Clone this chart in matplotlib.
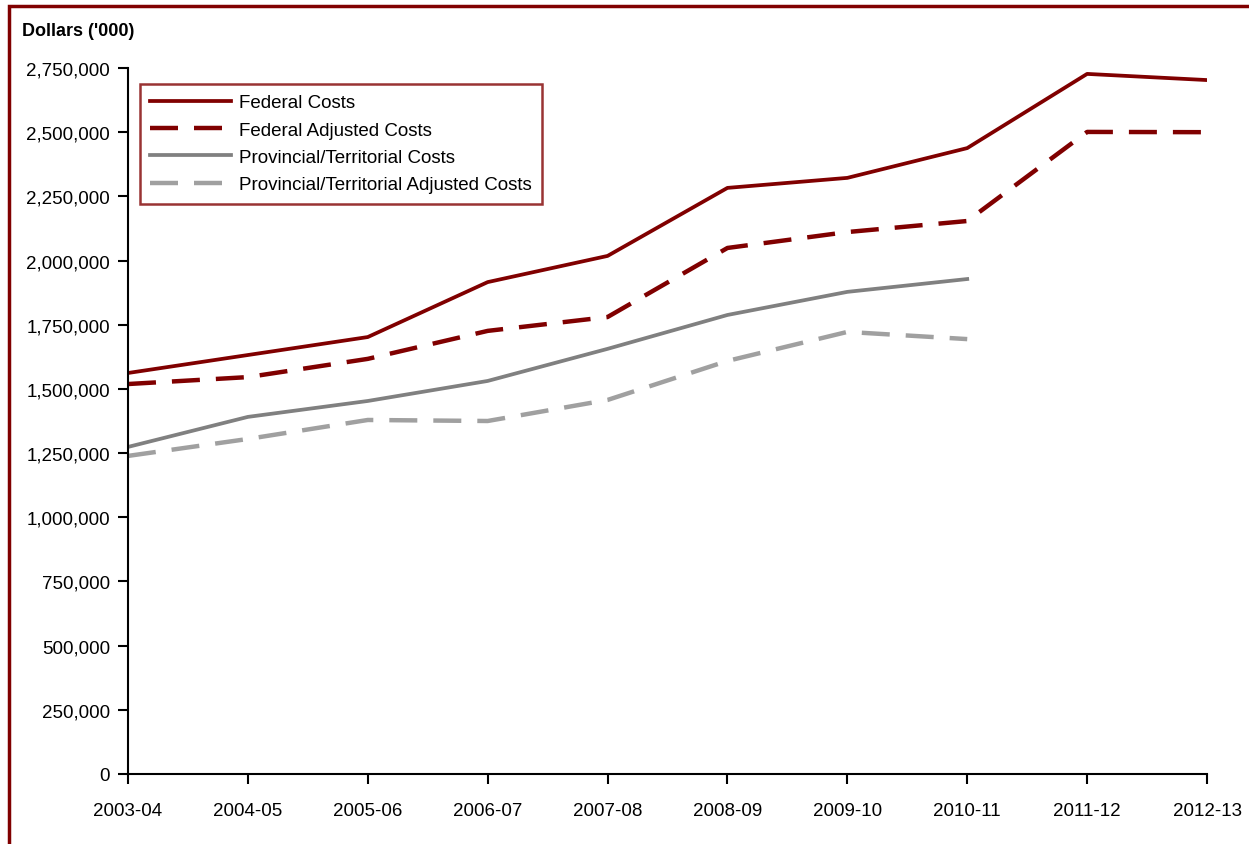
import matplotlib.pyplot as plt
from matplotlib.patches import Rectangle
from matplotlib.ticker import FuncFormatter

plt.rcParams['font.family'] = ['Liberation Sans', 'DejaVu Sans']

years = ['2003-04', '2004-05', '2005-06', '2006-07', '2007-08',
         '2008-09', '2009-10', '2010-11', '2011-12', '2012-13']

federal = [1562000, 1632000, 1702000, 1916000, 2018000,
           2283000, 2322000, 2438000, 2727000, 2703000]
federal_adj = [1519000, 1546000, 1617000, 1726000, 1780000,
               2049000, 2111000, 2154000, 2501000, 2500000]
prov = [1274000, 1391000, 1453000, 1531000, 1656000,
        1788000, 1878000, 1928000]
prov_adj = [1239000, 1305000, 1379000, 1375000, 1457000,
            1609000, 1722000, 1694000]

dark_red = '#800000'
grey = '#808080'
light_grey = '#a0a0a0'

fig = plt.figure(figsize=(12.49, 8.45), dpi=100)
ax = fig.add_axes([128/1249, 1 - 775/845, (1207 - 128)/1249, (775 - 69)/845])

x = list(range(len(years)))
ax.plot(x, federal, color=dark_red, lw=2.7, label='Federal Costs')
ax.plot(x, federal_adj, color=dark_red, lw=3.2, dashes=(6.3, 3.6), label='Federal Adjusted Costs')
ax.plot(x[:len(prov)], prov, color=grey, lw=2.7, label='Provincial/Territorial Costs')
ax.plot(x[:len(prov_adj)], prov_adj, color=light_grey, lw=3.2, dashes=(6.3, 3.6),
        label='Provincial/Territorial Adjusted Costs')

ax.set_xlim(0, len(years) - 1)
ax.set_ylim(0, 2750000)
ax.set_yticks(range(0, 2750001, 250000))
ax.yaxis.set_major_formatter(FuncFormatter(lambda v, p: f'{int(v):,}'))
ax.set_xticks(x)
ax.set_xticklabels(years)
ax.tick_params(axis='both', direction='out', length=7, width=1.5, labelsize=13.5, colors='black')
ax.tick_params(axis='x', pad=13)
ax.tick_params(axis='y', pad=6)
for s in ['top', 'right']:
    ax.spines[s].set_visible(False)
for s in ['left', 'bottom']:
    ax.spines[s].set_linewidth(1.5)

fig.text(22/1249, 1 - 32/845, "Dollars ('000)", fontsize=13, fontweight='bold', va='center', ha='left')

leg = ax.legend(loc='upper left', bbox_to_anchor=(12/1079, 1 - 16/706), borderaxespad=0,
                fontsize=13.5, frameon=True, fancybox=False, handlelength=4.3,
                handletextpad=0.45, labelspacing=0.54, borderpad=0.55)
leg.get_frame().set_edgecolor(dark_red)
leg.get_frame().set_linewidth(1.8)

# outer frame, only left and top edges are visible in the image
fig.patches.append(Rectangle((9/1249, -0.1), 1.2, 1 - 7/845 + 0.1, transform=fig.transFigure,
                             fill=False, edgecolor=dark_red, lw=2.5))

fig.savefig('out.png', dpi=100)
